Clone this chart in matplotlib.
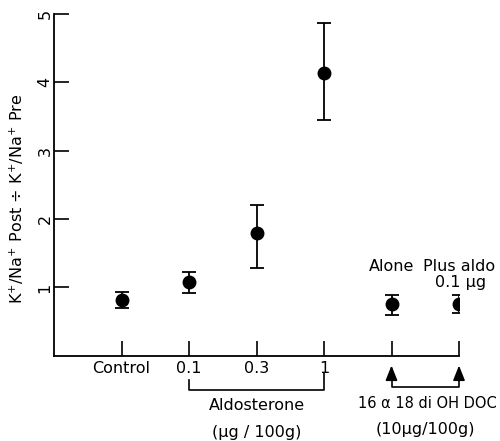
import matplotlib.pyplot as plt

groups = ["Control", "0.1", "0.3", "1", "Alone", "Plus aldo"]
tick_labels = ["Control", "0.1", "0.3", "1", "", ""]
ratio = [0.81, 1.08, 1.80, 4.13, 0.76, 0.76]
err_low = [0.11, 0.16, 0.51, 0.68, 0.16, 0.13]
err_high = [0.12, 0.15, 0.41, 0.73, 0.13, 0.13]

plt.rcParams['font.family'] = ['DejaVu Sans']
fs = 11.5
fig = plt.figure(figsize=(5, 4.41), dpi=100)
ax = fig.add_axes([0.108, 0.193, 0.81, 0.7755])

x = list(range(len(groups)))
ax.errorbar(x, ratio, yerr=[err_low, err_high], fmt='o', color='black',
            markersize=9, capsize=5, elinewidth=1.3, capthick=1.3)

ax.set_xlim(-1, 5)
ax.set_ylim(0, 5)
ax.spines['top'].set_visible(False)
ax.spines['right'].set_visible(False)
ax.spines['left'].set_linewidth(1.3)
ax.spines['bottom'].set_linewidth(1.3)

ax.set_xticks(x)
ax.set_xticklabels(tick_labels, fontsize=fs)
ax.set_yticks([1, 2, 3, 4, 5])
ax.set_yticklabels(["1", "2", "3", "4", "5"], fontsize=fs, rotation=90, va='center')
ax.tick_params(axis='both', direction='in', length=11, width=1.2)
ax.tick_params(axis='x', pad=4)
ax.tick_params(axis='y', pad=1)

ax.set_ylabel("K$^{+}$/Na$^{+}$ Post \u00f7 K$^{+}$/Na$^{+}$ Pre", fontsize=fs)
ax.yaxis.set_label_coords(-0.068, 0.46)

# aldosterone bracket
ax.plot([1, 1, 3, 3], [-0.35, -0.5, -0.5, -0.25], color='black', lw=1.2, clip_on=False)
ax.text(2, -0.72, "Aldosterone", ha='center', va='center', fontsize=fs, clip_on=False)
ax.text(2, -1.12, "(\u03bcg / 100g)", ha='center', va='center', fontsize=fs, clip_on=False)

# DOC bracket with arrows
ax.plot([4, 4, 5, 5], [-0.3, -0.45, -0.45, -0.3], color='black', lw=1.2, clip_on=False)
for xi in [4, 5]:
    ax.annotate("", xy=(xi, -0.1), xytext=(xi, -0.32),
                arrowprops=dict(arrowstyle='-|>,head_length=0.45,head_width=0.18',
                                color='black', lw=1.2, mutation_scale=20),
                annotation_clip=False)
ax.text(4.53, -0.7, "16 \u03b1 18 di OH DOC", ha='center', va='center', fontsize=10.5, clip_on=False)
ax.text(4.5, -1.07, "(10\u03bcg/100g)", ha='center', va='center', fontsize=fs, clip_on=False)

ax.text(4, 1.3, "Alone", ha='center', va='center', fontsize=fs)
ax.text(5.0, 1.3, "Plus aldo", ha='center', va='center', fontsize=fs, clip_on=False)
ax.text(5.02, 1.08, "0.1 \u03bcg", ha='center', va='center', fontsize=fs, clip_on=False)

fig.savefig("out.png", dpi=100)
